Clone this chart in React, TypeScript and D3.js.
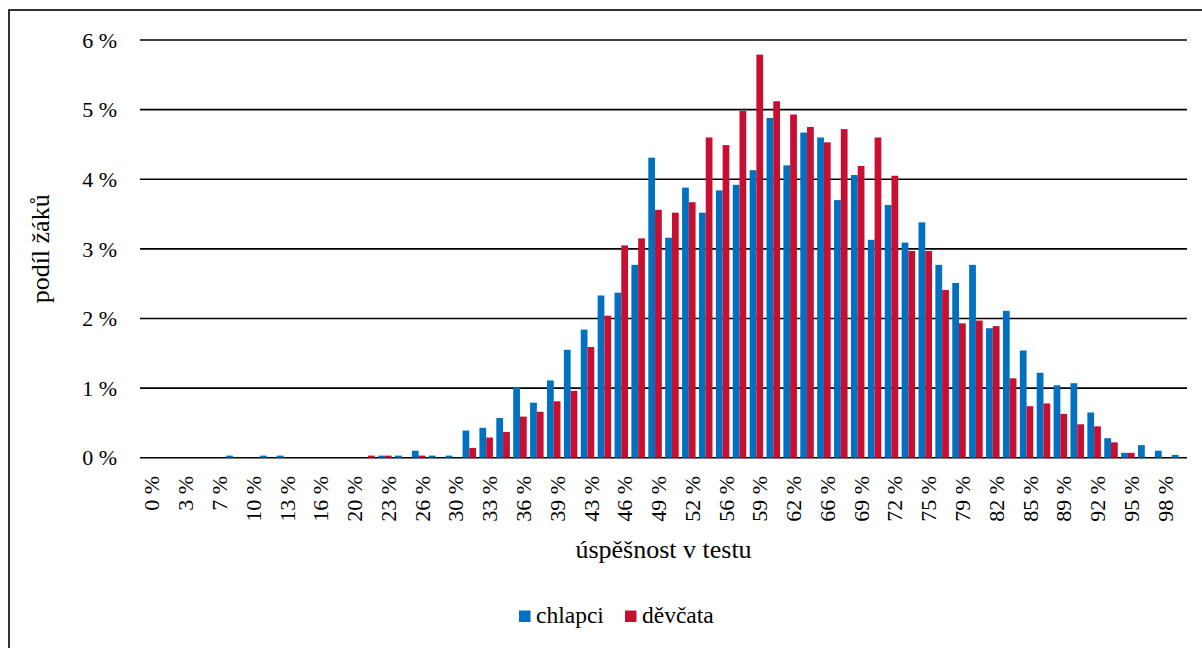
import React from 'react'
import * as d3 from 'd3'

// úspěšnost v testu (rounded %), 62 categories
const categories = [
  0, 2, 3, 5, 7, 8, 10, 11, 13, 15, 16, 18, 20, 21, 23, 25, 26, 28, 30, 31, 33, 34, 36, 38, 39, 41, 43,
  44, 46, 48, 49, 51, 52, 54, 56, 57, 59, 61, 62, 64, 66, 67, 69, 70, 72, 74, 75, 77, 79, 80, 82, 84,
  85, 87, 89, 90, 92, 93, 95, 97, 98, 100,
]

const chlapci = [
  0, 0, 0, 0, 0, 0.03, 0, 0.03, 0.03, 0, 0, 0, 0, 0, 0.03, 0.03, 0.1, 0.03, 0.03, 0.39, 0.43, 0.57,
  1.01, 0.79, 1.11, 1.55, 1.84, 2.33, 2.37, 2.77, 4.31, 3.16, 3.88, 3.52, 3.84, 3.92, 4.13, 4.88, 4.2,
  4.67, 4.6, 3.7, 4.06, 3.13, 3.63, 3.09, 3.38, 2.77, 2.51, 2.77, 1.86, 2.11, 1.54, 1.22, 1.04, 1.07,
  0.65, 0.28, 0.07, 0.18, 0.1, 0.04,
]

const divky = [
  0, 0, 0, 0, 0, 0, 0, 0, 0, 0, 0, 0, 0, 0.03, 0.03, 0, 0.03, 0, 0, 0.14, 0.29, 0.37, 0.59, 0.66, 0.81,
  0.96, 1.59, 2.04, 3.05, 3.15, 3.56, 3.52, 3.67, 4.6, 4.49, 4.98, 5.79, 5.12, 4.93, 4.75, 4.53, 4.72,
  4.19, 4.6, 4.05, 2.97, 2.97, 2.41, 1.93, 1.97, 1.89, 1.14, 0.74, 0.78, 0.63, 0.48, 0.45, 0.22, 0.07,
  0, 0, 0,
]

const seriesNames = ['chlapci', 'děvčata']
const seriesColors = ['#0070C0', '#C80F32']
const yTicks = [0, 1, 2, 3, 4, 5, 6]

const width = 1202
const height = 648
const plot = { left: 140, right: 1187, top: 40, bottom: 457.7 }
const font = "'Liberation Serif', 'Times New Roman', serif"

const xScale = d3
  .scaleBand<number>()
  .domain(d3.range(categories.length))
  .range([plot.left, plot.right])
  .paddingInner(0.2)
  .paddingOuter(0.1)

const xSeries = d3
  .scaleBand<string>()
  .domain(seriesNames)
  .range([0, xScale.bandwidth()])

const yScale = d3.scaleLinear().domain([0, 6]).range([plot.bottom, plot.top])

function Gridlines() {
  return (
    <g>
      {yTicks.map(t => (
        <g key={t}>
          <line
            x1={plot.left}
            x2={plot.right}
            y1={yScale(t)}
            y2={yScale(t)}
            stroke="#000"
            strokeWidth={1.6}
          />
          <text
            x={117}
            y={yScale(t)}
            dy="0.35em"
            textAnchor="end"
            fontSize={22}
            fontFamily={font}
          >
            {t} %
          </text>
        </g>
      ))}
    </g>
  )
}

function Bars() {
  const series = [chlapci, divky]
  return (
    <g>
      {series.map((values, s) =>
        values.map((v, i) =>
          v > 0 ? (
            <rect
              key={s + '-' + i}
              x={xScale(i)! + xSeries(seriesNames[s])!}
              y={yScale(v)}
              width={xSeries.bandwidth()}
              height={yScale(0) - yScale(v)}
              fill={seriesColors[s]}
            />
          ) : null
        )
      )}
    </g>
  )
}

function XLabels() {
  const step = xScale.step()
  return (
    <g>
      {categories.map((c, i) => {
        if (i % 2 !== 0) return null
        const cx = plot.left + step * (i + 0.5)
        return (
          <text
            key={i}
            transform={`translate(${cx}, 476) rotate(-90)`}
            dy="0.5em"
            textAnchor="end"
            fontSize={22}
            fontFamily={font}
          >
            {c} %
          </text>
        )
      })}
    </g>
  )
}

function Legend() {
  const items = [
    { x: 519, tx: 536 },
    { x: 625, tx: 642 },
  ]
  return (
    <g>
      {items.map((it, s) => (
        <g key={s}>
          <rect x={it.x} y={610.5} width={11.5} height={11.5} fill={seriesColors[s]} />
          <text x={it.tx} y={623} fontSize={23.5} fontFamily={font}>
            {seriesNames[s]}
          </text>
        </g>
      ))}
    </g>
  )
}

export default function App() {
  return (
    <svg
      width={width}
      height={height}
      style={{ position: 'absolute', left: 0, top: 0, background: '#fff' }}
    >
      <rect x={9} y={10} width={1200} height={660} fill="#fff" stroke="#000" strokeWidth={1.6} />
      <Gridlines />
      <Bars />
      <XLabels />
      <text
        transform={`translate(40, ${(plot.top + plot.bottom) / 2}) rotate(-90)`}
        dy="0.35em"
        textAnchor="middle"
        fontSize={26}
        fontFamily={font}
      >
        podíl žáků
      </text>
      <text
        x={(plot.left + plot.right) / 2}
        y={549}
        dy="0.35em"
        textAnchor="middle"
        fontSize={26}
        fontFamily={font}
      >
        úspěšnost v testu
      </text>
      <Legend />
    </svg>
  )
}
